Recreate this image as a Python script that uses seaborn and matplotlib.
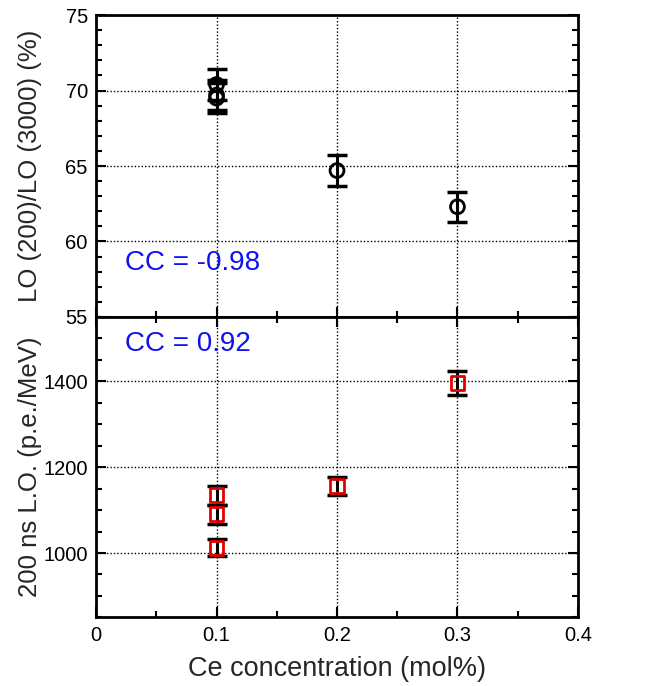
import matplotlib
matplotlib.use("Agg")
import matplotlib.pyplot as plt
import seaborn as sns
import pandas as pd
from matplotlib.ticker import MultipleLocator, FuncFormatter

sns.set_theme(style="white")
plt.rcParams['font.family'] = ['Liberation Sans', 'DejaVu Sans']

# Top panel: LO(200)/LO(3000) ratio (%)
ce_top = [0.1, 0.1, 0.1, 0.2, 0.3]
ratio = [70.4, 69.7, 69.5, 64.7, 62.3]
ratio_err = [1.0, 1.0, 1.0, 1.0, 1.0]

# Bottom panel: 200 ns light output (p.e./MeV)
ce_bot = [0.1, 0.1, 0.1, 0.2, 0.3]
lo200 = [1135, 1090, 1012, 1156, 1397]
lo200_err = [22, 22, 20, 22, 28]

cc_top = "CC = -0.98"
cc_bot = "CC = 0.92"

fig = plt.figure(figsize=(6.72, 6.86), dpi=100)
ax1 = fig.add_axes([0.143, 0.538, 0.717, 0.440])
ax2 = fig.add_axes([0.143, 0.100, 0.717, 0.438], sharex=ax1)

df1 = pd.DataFrame({"x": ce_top, "y": ratio, "e": ratio_err})
df2 = pd.DataFrame({"x": ce_bot, "y": lo200, "e": lo200_err})

for ax in (ax1, ax2):
    ax.set_xlim(0, 0.4)
    ax.xaxis.set_major_locator(MultipleLocator(0.1))
    ax.xaxis.set_minor_locator(MultipleLocator(0.05))
    ax.grid(True, which='major', color='black', linestyle=(0, (1, 1.5)), linewidth=1.0)
    for s in ax.spines.values():
        s.set_linewidth(2.0)
        s.set_color('black')
    ax.tick_params(which='both', direction='in', left=True, right=True,
                   width=1.5, colors='black', labelsize=14.5, pad=6)
    ax.tick_params(which='major', length=7)
    ax.tick_params(which='minor', length=4)
    ax.set_axisbelow(True)

ax1.tick_params(axis='x', which='both', bottom=True, top=False, labelbottom=False)
ax2.tick_params(axis='x', which='both', bottom=True, top=True)

ax1.errorbar(df1.x, df1.y, yerr=df1.e, fmt='none', ecolor='black', elinewidth=2.2,
             capsize=7, capthick=2.5, zorder=3)
sns.scatterplot(data=df1, x="x", y="y", ax=ax1, marker='o', s=100, facecolor='none',
                edgecolor='black', linewidth=2.0, zorder=4)
ax1.set_ylim(55, 75)
ax1.yaxis.set_major_locator(MultipleLocator(5))
ax1.yaxis.set_minor_locator(MultipleLocator(1))
ax1.set_ylabel("LO (200)/LO (3000) (%)", fontsize=18.5)
ax1.yaxis.set_label_coords(-0.112, 0.5)
ax1.set_xlabel("")
ax1.text(0.024, 58.6, cc_top, color='#1010f0', fontsize=20, va='center')

ax2.errorbar(df2.x, df2.y, yerr=df2.e, fmt='none', ecolor='black', elinewidth=2.2,
             capsize=7, capthick=2.5, zorder=3)
sns.scatterplot(data=df2, x="x", y="y", ax=ax2, marker='s', s=100, facecolor='none',
                edgecolor='#e00000', linewidth=2.0, zorder=4)
ax2.set_ylim(850, 1550)
ax2.yaxis.set_major_locator(MultipleLocator(200))
ax2.yaxis.set_minor_locator(MultipleLocator(50))
ax2.set_ylabel("200 ns L.O. (p.e./MeV)", fontsize=18.5)
ax2.yaxis.set_label_coords(-0.112, 0.5)
ax2.set_xlabel("Ce concentration (mol%)", fontsize=19.5, labelpad=8)
ax2.xaxis.set_major_formatter(FuncFormatter(lambda v, p: f"{v:g}"))
ax2.text(0.024, 1486, cc_bot, color='#1010f0', fontsize=20, va='center')

fig.savefig("out.png", dpi=100)
